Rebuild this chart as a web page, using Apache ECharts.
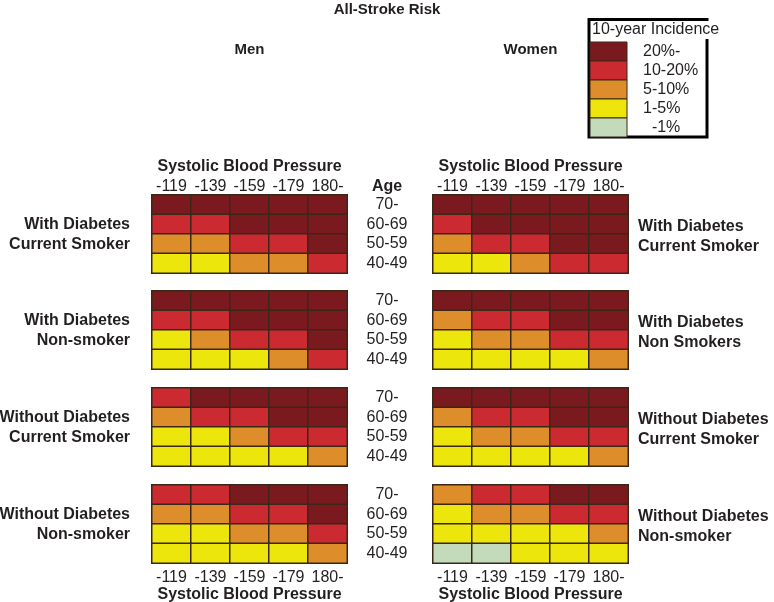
<!DOCTYPE html>
<html>
<head>
<meta charset="utf-8">
<script src="https://cdn.jsdelivr.net/npm/echarts@6/dist/echarts.min.js"></script>
<style>
  html, body { margin: 0; padding: 0; background: #fff; }
  #chart { width: 774px; height: 602px; }
</style>
</head>
<body>
<div id="chart"></div>
<script>
// ---- Data ----
var sbpLabels = ['-119', '-139', '-159', '-179', '180-'];
var ageLabels = ['40-49', '50-59', '60-69', '70-'];   // bottom to top
// risk level: 0 = -1%, 1 = 1-5%, 2 = 5-10%, 3 = 10-20%, 4 = 20%-
// rows listed top to bottom: 70-, 60-69, 50-59, 40-49
var menDiabSmoker = [[4,4,4,4,4],[3,3,4,4,4],[2,2,3,3,4],[1,1,2,2,3]];
var menDiabNonSmoker = [[4,4,4,4,4],[3,3,4,4,4],[1,2,3,3,4],[1,1,1,2,3]];
var menNoDiabSmoker = [[3,4,4,4,4],[2,3,3,4,4],[1,1,2,3,3],[1,1,1,1,2]];
var menNoDiabNonSmoker = [[3,3,4,4,4],[2,2,3,3,4],[1,1,2,2,3],[1,1,1,1,2]];
var womenDiabSmoker = [[4,4,4,4,4],[3,4,4,4,4],[2,3,3,4,4],[1,1,2,3,3]];
var womenDiabNonSmoker = [[4,4,4,4,4],[2,3,3,4,4],[1,2,2,3,3],[1,1,1,1,2]];
var womenNoDiabSmoker = [[4,4,4,4,4],[2,3,3,4,4],[1,2,2,3,3],[1,1,1,1,2]];
var womenNoDiabNonSmoker = [[2,3,3,4,4],[1,2,2,3,3],[1,1,1,1,2],[0,0,1,1,1]];

var leftGroupLabels = ['With Diabetes\nCurrent Smoker', 'With Diabetes\nNon-smoker', 'Without Diabetes\nCurrent Smoker', 'Without Diabetes\nNon-smoker'];
var rightGroupLabels = ['With Diabetes\nCurrent Smoker', 'With Diabetes\nNon Smokers', 'Without Diabetes\nCurrent Smoker', 'Without Diabetes\nNon-smoker'];
var legendTitle = '10-year Incidence';
var legendLevels = [4, 3, 2, 1, 0];
var legendLabels = ['20%-', '10-20%', '5-10%', '1-5%', '\u00a0\u00a0-1%'];
var levelColors = ['#c3dbbb', '#ede60c', '#de8d2b', '#cb2a30', '#7a1a1f'];

// ---- Layout ----
var FONT = '"Liberation Sans", Arial, Helvetica, sans-serif';
var menLeft = 152, womenLeft = 433, gridW = 195, gridH = 78;
var tops = [195, 291, 388, 485];
var menPanels = [menDiabSmoker, menDiabNonSmoker, menNoDiabSmoker, menNoDiabNonSmoker];
var womenPanels = [womenDiabSmoker, womenDiabNonSmoker, womenNoDiabSmoker, womenNoDiabNonSmoker];

function toHeat(panel) {
  var out = [];
  for (var r = 0; r < panel.length; r++) {
    for (var c = 0; c < panel[r].length; c++) {
      out.push([c, ageLabels.length - 1 - r, panel[r][c]]);
    }
  }
  return out;
}

var grids = [], xAxes = [], yAxes = [], series = [];
function addPanel(panel, left, idx, isMen) {
  var gi = grids.length;
  grids.push({ left: left, top: tops[idx], width: gridW, height: gridH,
    outerBoundsMode: 'none', containLabel: false,
    show: true, borderColor: '#3a2718', borderWidth: 2, backgroundColor: 'transparent' });
  var isTop = idx === 0, isBottom = idx === 3;
  xAxes.push({
    type: 'category', gridIndex: gi, data: sbpLabels,
    position: isTop ? 'top' : 'bottom',
    axisLine: { show: false }, axisTick: { show: false }, splitLine: { show: false },
    axisLabel: { show: isTop || isBottom, interval: 0, margin: isTop ? 0 : 7, lineHeight: 16,
      fontSize: 16, color: '#231f20', fontFamily: FONT },
    name: (isTop || isBottom) ? 'Systolic Blood Pressure' : '',
    nameLocation: 'middle', nameGap: isTop ? 20 : 24,
    nameTextStyle: { fontSize: 16, fontWeight: 'bold', color: '#231f20', fontFamily: FONT, lineHeight: 16 }
  });
  yAxes.push({
    type: 'category', gridIndex: gi, data: ageLabels,
    position: 'right',
    axisLine: { show: false }, axisTick: { show: false }, splitLine: { show: false },
    axisLabel: { show: isMen, interval: 0, margin: 40, align: 'center', fontSize: 16, color: '#231f20', fontFamily: FONT }
  });
  series.push({
    type: 'heatmap', xAxisIndex: gi, yAxisIndex: gi, data: toHeat(panel),
    itemStyle: { borderColor: '#3a2718', borderWidth: 1.5 },
    emphasis: { disabled: true }, silent: true, progressive: 0
  });
}
for (var i = 0; i < 4; i++) {
  addPanel(menPanels[i], menLeft, i, true);
  addPanel(womenPanels[i], womenLeft, i, false);
}

var txtStyle = function (text, x, y, size, bold, align) {
  return { type: 'text', x: x, y: y, silent: true,
    style: { text: text, fontSize: size, fontWeight: bold ? 'bold' : 'normal', fontFamily: FONT,
      fill: '#231f20', align: align || 'center', verticalAlign: 'middle', lineHeight: 20 } };
};

var graphics = [];
graphics.push(txtStyle('All-Stroke Risk', 387, 10, 15, true));
graphics.push(txtStyle('Men', menLeft + gridW / 2, 50, 15, true));
graphics.push(txtStyle('Women', womenLeft + gridW / 2, 50, 15, true));
graphics.push(txtStyle('Age', 387, 187, 16, true));
for (var j = 0; j < 4; j++) {
  var cy = tops[j] + gridH / 2;
  graphics.push(txtStyle(leftGroupLabels[j], 130, cy + 1, 16, true, 'right'));
  graphics.push(txtStyle(rightGroupLabels[j], 638, cy + 3, 16, true, 'left'));
}
// legend box
graphics.push({ type: 'rect', silent: true, shape: { x: 589, y: 19.5, width: 118, height: 117.5 },
  style: { fill: 'none', stroke: '#000', lineWidth: 3 } });
graphics.push({ type: 'text', x: 591, y: 30, silent: true, z: 10,
  style: { text: legendTitle, fontSize: 16, fontFamily: FONT, fill: '#231f20', align: 'left', verticalAlign: 'middle',
    backgroundColor: '#fff', padding: [1, 2, 1, 1] } });
for (var k = 0; k < legendLevels.length; k++) {
  var yy = 42 + k * 19;
  graphics.push({ type: 'rect', silent: true, shape: { x: 590, y: yy, width: 37, height: 19 },
    style: { fill: levelColors[legendLevels[k]], stroke: '#3a2718', lineWidth: 1 } });
  graphics.push(txtStyle(legendLabels[k], 643, yy + 10, 16, false, 'left'));
}

var chart = echarts.init(document.getElementById('chart'), null, { renderer: 'canvas' });
chart.setOption({
  animation: false,
  backgroundColor: '#fff',
  grid: grids,
  xAxis: xAxes,
  yAxis: yAxes,
  visualMap: {
    type: 'piecewise', show: false, dimension: 2, seriesIndex: series.map(function (s, i) { return i; }),
    pieces: legendLevels.map(function (lv) { return { value: lv, color: levelColors[lv] }; })
  },
  series: series,
  graphic: graphics
});
</script>
</body>
</html>
